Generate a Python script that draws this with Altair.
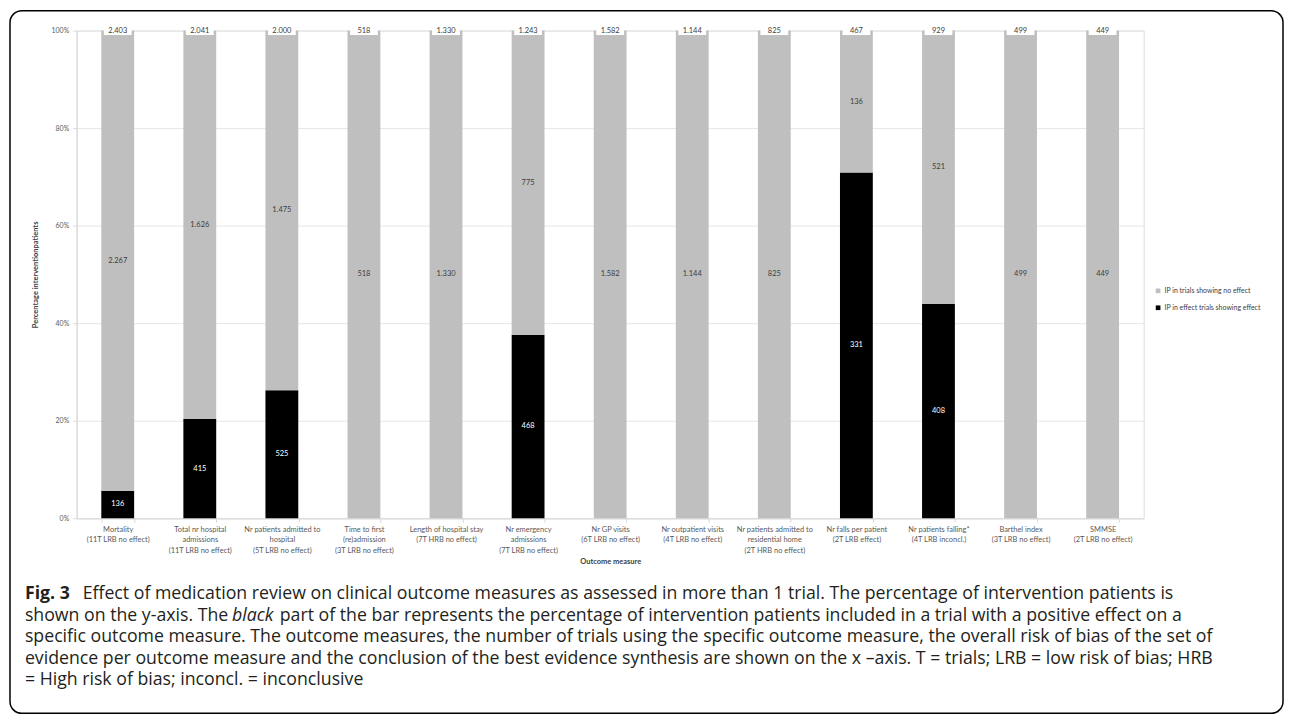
import altair as alt
import pandas as pd

categories = [
    "Mortality\n(11T LRB no effect)",
    "Total nr hospital\nadmissions\n(11T LRB no effect)",
    "Nr patients admitted to\nhospital\n(5T LRB no effect)",
    "Time to first\n(re)admission\n(3T LRB no effect)",
    "Length of hospital stay\n(7T HRB no effect)",
    "Nr emergency\nadmissions\n(7T LRB no effect)",
    "Nr GP visits\n(6T LRB no effect)",
    "Nr outpatient visits\n(4T LRB no effect)",
    "Nr patients admitted to\nresidential home\n(2T HRB no effect)",
    "Nr falls per patient\n(2T LRB effect)",
    "Nr patients falling*\n(4T LRB inconcl.)",
    "Barthel index\n(3T LRB no effect)",
    "SMMSE\n(2T LRB no effect)",
]
effect_ip = [136, 415, 525, 0, 0, 468, 0, 0, 0, 331, 408, 0, 0]
noeffect_ip = [2267, 1626, 1475, 518, 1330, 775, 1582, 1144, 825, 136, 521, 499, 449]

series_effect = "IP in effect trials showing effect"
series_noeffect = "IP in trials showing no effect"

caption_l1_bold = "Fig. 3"
caption_l1 = "Effect of medication review on clinical outcome measures as assessed in more than 1 trial. The percentage of intervention patients is"
caption_l2a = "shown on the y-axis. The"
caption_l2_italic = "black"
caption_l2b = "part of the bar represents the percentage of intervention patients included in a trial with a positive effect on a"
caption_rest = [
    "specific outcome measure. The outcome measures, the number of trials using the specific outcome measure, the overall risk of bias of the set of",
    "evidence per outcome measure and the conclusion of the best evidence synthesis are shown on the x \u2013axis. T = trials; LRB = low risk of bias; HRB",
    "= High risk of bias; inconcl. = inconclusive",
]

rows = []
for c, e, n in zip(categories, effect_ip, noeffect_ip):
    rows.append({"category": c, "series": series_effect, "count": e, "ord": 0})
    rows.append({"category": c, "series": series_noeffect, "count": n, "ord": 1})
df = pd.DataFrame(rows)

FONT = "Lato"
CAP_FONT = "Open Sans"
CAP_SIZE = 17.8
CAP_COLOR = "#231f20"

xscale = alt.Scale(paddingInner=0.6, paddingOuter=0.3)
yscale = alt.Scale(domain=[0, 1])

xaxis = alt.Axis(
    title="Outcome measure",
    labelExpr="split(datum.label, '\\n')",
    labelAngle=0,
    labelFont=FONT,
    labelFontSize=7.5,
    labelColor="#595959",
    labelLineHeight=10.5,
    labelPadding=3,
    labelLimit=300,
    tickSize=4,
    tickColor="#d9d9d9",
    domainColor="#d9d9d9",
    tickBand="extent",
    grid=False,
    titleFont=FONT,
    titleFontSize=7.5,
    titleFontWeight="bold",
    titleColor="#404040",
    titlePadding=4,
)
yaxis = alt.Axis(
    title="Percentage interventionpatients",
    format=".0%",
    values=[0, 0.2, 0.4, 0.6, 0.8, 1.0],
    labelFont=FONT,
    labelFontSize=7,
    labelColor="#595959",
    labelPadding=4,
    tickSize=4,
    tickColor="#d9d9d9",
    domainColor="#d9d9d9",
    gridColor="#e6e6e6",
    titleFont=FONT,
    titleFontSize=7.5,
    titleFontWeight="bold",
    titleColor="#404040",
    titlePadding=12,
)

base = (
    alt.Chart(df)
    .transform_joinaggregate(total="sum(count)", groupby=["category"])
    .transform_calculate(pct="datum.count / datum.total")
    .transform_stack(stack="pct", groupby=["category"], sort=[alt.SortField("ord")], as_=["y0", "y1"])
    .transform_calculate(
        mid="(datum.y0 + datum.y1) / 2",
        lab="replace(format(datum.count, ',d'), ',', '.')",
        totlab="replace(format(datum.total, ',d'), ',', '.')",
        one="1",
    )
)

X = alt.X("category:N", sort=categories, scale=xscale, axis=xaxis)

bars = base.mark_bar().encode(
    x=X,
    y=alt.Y("y0:Q", scale=yscale, axis=yaxis),
    y2="y1:Q",
    color=alt.Color(
        "series:N",
        scale=alt.Scale(domain=[series_noeffect, series_effect], range=["#bfbfbf", "#000000"]),
        legend=alt.Legend(
            title=None,
            orient="none",
            legendX=1083,
            legendY=258,
            labelFont=FONT,
            labelFontSize=7,
            labelColor="#404040",
            symbolType="square",
            symbolSize=22,
            symbolStrokeWidth=0,
            rowPadding=9,
            labelOffset=3,
        ),
    ),
)

seg_text = base.transform_filter("datum.count > 0").mark_text(
    font=FONT, fontSize=7.5, baseline="middle", align="center"
).encode(
    x=X,
    y=alt.Y("mid:Q", scale=yscale, axis=yaxis),
    text="lab:N",
    color=alt.condition("datum.ord == 0", alt.value("#ffffff"), alt.value("#404040")),
)

top_box = base.transform_filter("datum.ord == 1").mark_tick(
    color="#ffffff", opacity=1, thickness=9, size=28, orient="horizontal"
).encode(
    x=X,
    y=alt.Y("one:Q", scale=yscale, axis=yaxis),
)

top_text = base.transform_filter("datum.ord == 1").mark_text(
    font=FONT, fontSize=7.5, baseline="middle", align="center", color="#404040"
).encode(
    x=X,
    y=alt.Y("one:Q", scale=yscale, axis=yaxis),
    text="totlab:N",
)

one_row = alt.Data(values=[{"k": 1}])

border = alt.Chart(one_row).mark_rect(
    fill="transparent", stroke="#000000", strokeWidth=1.5, cornerRadius=12
).encode(
    x=alt.value(-67), x2=alt.value(1212), y=alt.value(-20), y2=alt.value(686)
)


def cap(text, xv, yv, **kw):
    return alt.Chart(one_row).mark_text(
        font=CAP_FONT, fontSize=CAP_SIZE, align="left", baseline="middle", color=CAP_COLOR, **kw
    ).encode(x=alt.value(xv), y=alt.value(yv), text=alt.value(text))


cap_layers = [
    cap(caption_l1_bold, -52, 566, fontWeight="bold"),
    cap(caption_l1, 6, 566),
    cap(caption_l2a, -52, 588),
    cap(caption_l2_italic, 156, 588, fontStyle="italic"),
    cap(caption_l2b, 204, 588),
    cap(caption_rest[0], -52, 609),
    cap(caption_rest[1], -52, 631),
    cap(caption_rest[2], -52, 653),
]

chart = alt.layer(border, bars, top_box, top_text, seg_text, *cap_layers).properties(
    width=1072,
    height=490,
    padding={"left": 1, "top": 0, "right": 0, "bottom": 0},
).configure_view(stroke="transparent").configure(background="white")

chart.save("out.html", embed_options={"renderer": "svg", "actions": False})
